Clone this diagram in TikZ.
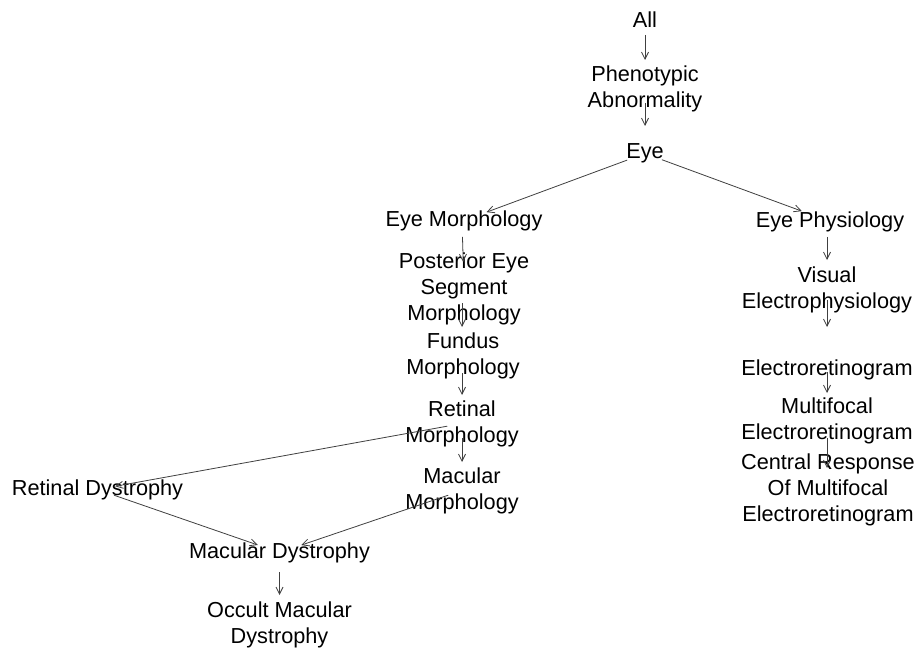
\documentclass[tikz,border=0pt]{standalone}
\usepackage{fontspec}
\setmainfont{Liberation Sans}
\usetikzlibrary{arrows.meta}
\begin{document}
\begin{tikzpicture}[x=1pt,y=-1pt,
  lbl/.style={inner sep=0pt, align=center, font=\fontsize{21.7}{26}\selectfont, text=black},
  arr/.style={draw=black!75, line width=0.8pt, -{Straight Barb[length=7pt,width=7pt]}}]
\useasboundingbox[fill=white] (0,0) rectangle (922,650);
% nodes
\node[lbl] (all)  at (645,20)    {All};
\node[lbl] (phen) at (645,88.5)  {Phenotypic\\Abnormality};
\node[lbl] (eye)  at (645,153.5) {Eye};
\node[lbl] (em)   at (464,220.5) {Eye Morphology};
\node[lbl] (ep)   at (830,221.5) {Eye Physiology};
\node[lbl] (post) at (464,288.5) {Posterior Eye\\Segment\\Morphology};
\node[lbl] (fund) at (463,356)   {Fundus\\Morphology};
\node[lbl] (ret)  at (462,423.5) {Retinal\\Morphology};
\node[lbl] (mm)   at (462,490.5) {Macular\\Morphology};
\node[lbl] (rd)   at (97.5,489.5) {Retinal Dystrophy};
\node[lbl] (md)   at (279.5,552.5) {Macular Dystrophy};
\node[lbl] (occ)  at (279.5,624.5) {Occult Macular\\Dystrophy};
\node[lbl] (vis)  at (827,289.5) {Visual\\Electrophysiology};
\node[lbl] (erg)  at (827,369.5) {Electroretinogram};
\node[lbl] (mf)   at (827,421)   {Multifocal\\Electroretinogram};
\node[lbl] (cr)   at (828,489.5) {Central Response\\Of Multifocal\\Electroretinogram};
% edges
\draw[arr, shorten <=15pt,   shorten >=28.5pt] (all.center) -- (phen.center);
\draw[arr, shorten <=14.5pt, shorten >=27.5pt] (phen.center) -- (eye.center);
\draw[arr, shorten <=19pt,   shorten >=24pt] (eye.center) -- (em.center);
\draw[arr, shorten <=18pt,   shorten >=30pt] (eye.center) -- (ep.center);
\draw[arr, shorten <=16.5pt, shorten >=26.5pt] ([xshift=-2pt]em.center) -- (post.center);
\draw[arr, shorten <=14.5pt, shorten >=29pt] ([xshift=-2pt]post.center) -- ([xshift=-1pt]fund.center);
\draw[arr, shorten <=17pt,   shorten >=28.5pt] ([xshift=-1pt]fund.center) -- (ret.center);
\draw[arr, shorten <=14.5pt, shorten >=28.5pt] (ret.center) -- (mm.center);
\draw[arr, shorten <=15pt,   shorten >=18pt] (ret.center) -- (rd.center);
\draw[arr, shorten <=17.5pt, shorten >=23pt] (rd.center) -- (md.center);
\draw[arr, shorten <=14.5pt, shorten >=23pt] (mm.center) -- (md.center);
\draw[arr, shorten <=19.5pt, shorten >=29.5pt] (md.center) -- (occ.center);
\draw[arr, shorten <=15.5pt, shorten >=29.5pt] ([xshift=-3pt]ep.center) -- (vis.center);
\draw[arr, shorten <=10.5pt, shorten >=42.5pt] (vis.center) -- (erg.center);
\draw[arr, shorten <=2.5pt,  shorten >=28pt] (erg.center) -- (mf.center);
\draw[arr, shorten <=17pt,   shorten >=21.5pt] (mf.center) -- ([xshift=-1pt]cr.center);
\end{tikzpicture}
\end{document}
